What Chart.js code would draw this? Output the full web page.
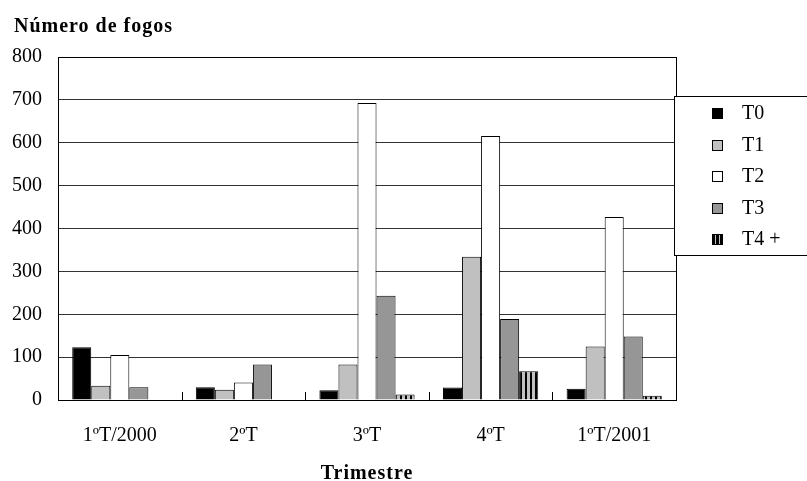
<!DOCTYPE html>
<html>
<head>
<meta charset="utf-8">
<script src="https://cdn.jsdelivr.net/npm/chart.js@4/dist/chart.umd.min.js"></script>
<style>
  html, body { margin: 0; padding: 0; background: #fff; }
  #wrap { width: 807px; height: 481px; }
</style>
</head>
<body>
<div id="wrap"><canvas id="Chart1" width="807" height="481"></canvas></div>
<script>
// Categories and series
var trimestres = ['1ºT/2000', '2ºT', '3ºT', '4ºT', '1ºT/2001'];
var serieNomes = ['T0', 'T1', 'T2', 'T3', 'T4 +'];
var t0 = [123, 30, 23, 29, 26];
var t1 = [33, 24, 83, 334, 125];
var t2 = [105, 41, 693, 616, 427];
var t3 = [30, 83, 243, 189, 148];
var t4 = [0, 0, 13, 67, 10];
var yTicks = [0, 100, 200, 300, 400, 500, 600, 700, 800];

var serif = 'Liberation Serif, Times New Roman, serif';

// striped fill for T4 +
function stripes(w, dark) {
	var c = document.createElement('canvas');
	c.width = w; c.height = 4;
	var g = c.getContext('2d');
	g.fillStyle = '#c0c0c0';
	g.fillRect(0, 0, w, 4);
	g.fillStyle = '#000';
	g.fillRect(0, 0, dark, 4);
	return g.createPattern(c, 'repeat');
}

var context = document.getElementById('Chart1').getContext('2d');
var cores = ['#000000', '#c0c0c0', '#ffffff', '#969696', stripes(5, 2)];
var legendaCores = ['#000000', '#c0c0c0', '#ffffff', '#969696', stripes(4, 3)];
var valores = [t0, t1, t2, t3, t4];

// plot frame, category ticks, titles and legend box
var extras = {
	id: 'extras',
	afterDatasetsDraw: function(chart) {
		var ctx = chart.ctx;
		var a = chart.chartArea;
		var x = chart.scales.x;
		ctx.save();
		ctx.strokeStyle = '#000';
		ctx.lineWidth = 1;
		ctx.strokeRect(Math.round(a.left) + 0.5, Math.round(a.top) + 0.5,
			Math.round(a.right - a.left), Math.round(a.bottom - a.top));
		// small ticks between quarters
		var step = (a.right - a.left) / trimestres.length;
		ctx.beginPath();
		for (var i = 0; i <= trimestres.length; i++) {
			var px = Math.round(x.getPixelForValue(i) - step / 2) + 0.5;
			if (i == trimestres.length) px = Math.round(a.right) + 0.5;
			ctx.moveTo(px, a.bottom - 8);
			ctx.lineTo(px, a.bottom);
		}
		ctx.stroke();

		// titles
		ctx.fillStyle = '#000';
		ctx.font = 'bold 20px ' + serif;
		ctx.letterSpacing = '1px';
		ctx.textBaseline = 'middle';
		ctx.textAlign = 'left';
		ctx.fillText('Número de fogos', 14, 27);
		ctx.textAlign = 'center';
		ctx.fillText('Trimestre', (a.left + a.right) / 2, 474);
		ctx.letterSpacing = '0px';

		// legend
		var lx = 674.5, ly = 96.5;
		ctx.fillStyle = '#fff';
		ctx.fillRect(lx, ly, 140, 159);
		ctx.strokeRect(lx, ly, 140, 159);
		ctx.font = '20px ' + serif;
		ctx.textAlign = 'left';
		for (var k = 0; k < serieNomes.length; k++) {
			var cy = 113 + k * 31.5;
			ctx.fillStyle = legendaCores[k];
			ctx.fillRect(712, Math.round(cy - 5), 11, 11);
			ctx.strokeRect(712.5, Math.round(cy - 5) + 0.5, 10, 10);
			ctx.fillStyle = '#000';
			ctx.fillText(serieNomes[k], 742, cy + 1);
		}
		ctx.restore();
	}
};

var datasets = serieNomes.map(function(nome, k) {
	return {
		label: nome,
		data: valores[k],
		backgroundColor: cores[k],
		borderColor: '#000',
		borderWidth: 1,
		categoryPercentage: 0.77,
		barPercentage: 1.0
	};
});

var myChart = new Chart(context, {
	type: 'bar',
	data: {
		labels: trimestres,
		datasets: datasets
	},
	options: {
		responsive: false,
		animation: false,
		layout: {
			padding: { top: 57, right: 131, bottom: 0, left: 0 }
		},
		plugins: {
			legend: { display: false },
			title: { display: false },
			tooltip: { enabled: false }
		},
		scales: {
			x: {
				grid: { display: false },
				border: { display: false },
				ticks: {
					color: '#000',
					padding: 16,
					font: { family: serif, size: 20 }
				},
				afterFit: function(s) { s.height = 81; }
			},
			y: {
				min: 0,
				max: 800,
				afterBuildTicks: function(s) {
					s.ticks = yTicks.map(function(v) { return { value: v }; });
				},
				grid: { color: '#333', drawTicks: false },
				border: { display: false },
				ticks: {
					color: '#000',
					padding: 16,
					font: { family: serif, size: 20 }
				},
				afterFit: function(s) { s.width = 58; }
			}
		}
	},
	plugins: [extras]
});
</script>
</body>
</html>
